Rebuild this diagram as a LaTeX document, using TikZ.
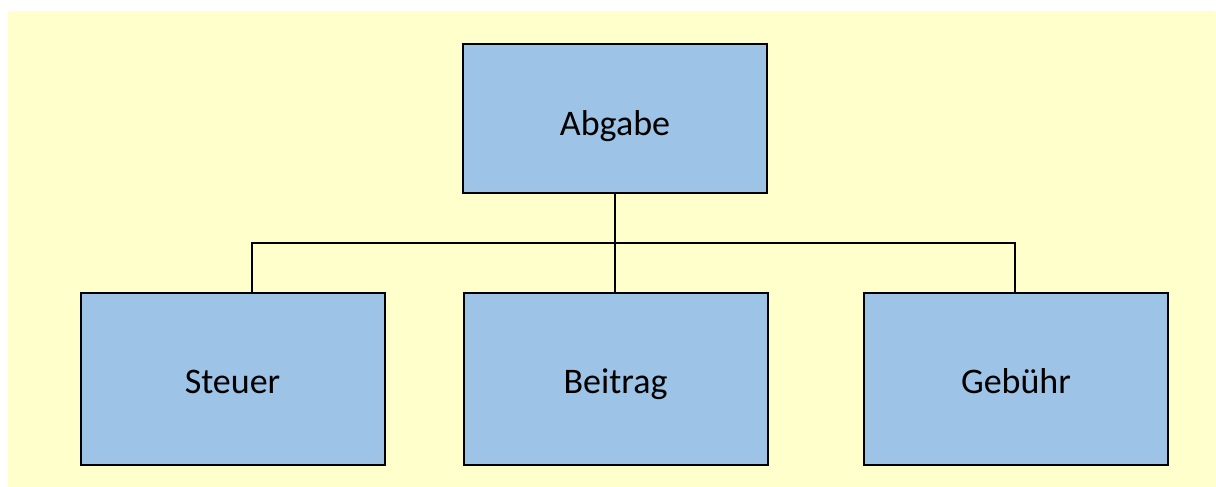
\documentclass[tikz,border=0pt]{standalone}
\usepackage{fontspec}
\setmainfont{Carlito}
\definecolor{paper}{HTML}{FFFFCC}
\definecolor{boxblue}{HTML}{9DC3E6}
\begin{document}
\begin{tikzpicture}[x=1pt,y=-1pt,
  termbox/.style={draw=black, line width=2pt, fill=boxblue, minimum width=304pt,
    minimum height=148pt, inner sep=0pt, text height=41pt, text depth=8pt,
    font=\fontsize{36}{40}\selectfont},
  childbox/.style={termbox, minimum height=172pt, text height=38pt},
  link/.style={draw=black, line width=2pt}]
  \useasboundingbox (0,0) rectangle (1216,487);
  \fill[paper] (8,11) rectangle (1215,487);
  % parent term
  \node[termbox] (abgabe) at (615,118.5) {Abgabe};
  % the three kinds of levy
  \node[childbox] (steuer)  at (232.5,378.5) {Steuer};
  \node[childbox] (beitrag) at (615.5,378.5) {Beitrag};
  \node[childbox] (gebuehr) at (1016,378.5) {Gebühr};
  % tree connectors
  \coordinate (bus) at (615,243);
  \draw[link] (abgabe.south) -- (bus);
  \draw[link] (beitrag.north -| bus) -- (bus);
  \draw[link] (252,0 |- steuer.north) |- (bus);
  \draw[link] (1015,0 |- gebuehr.north) |- (bus);
\end{tikzpicture}
\end{document}
